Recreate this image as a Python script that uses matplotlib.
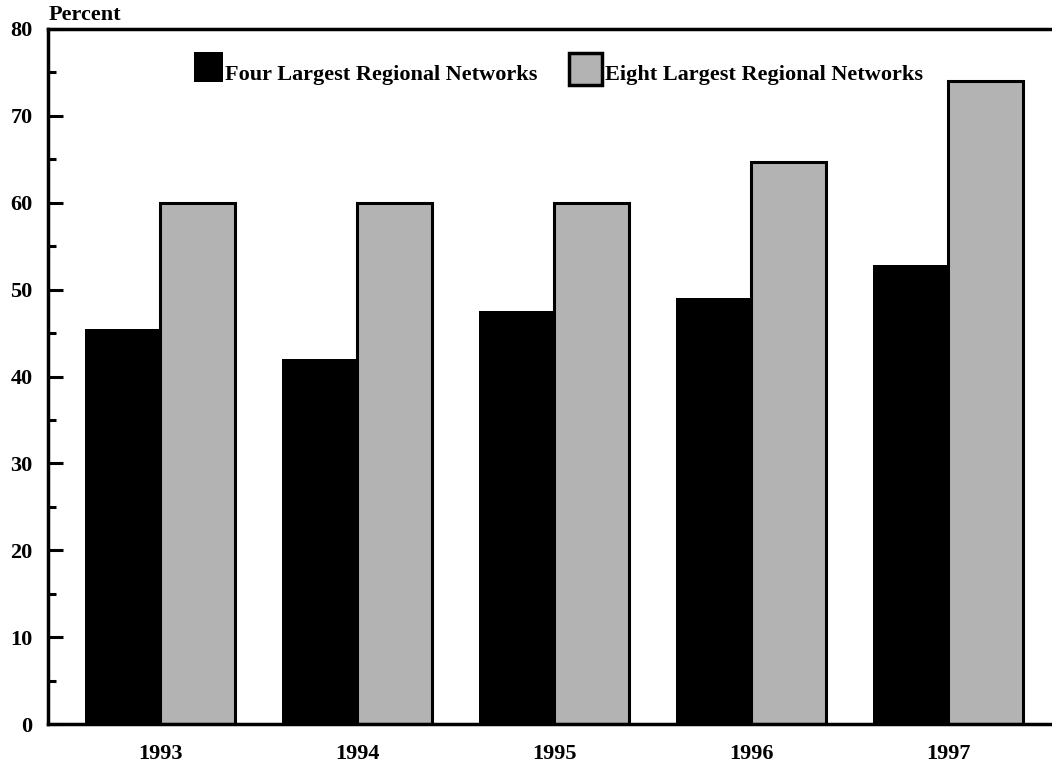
import matplotlib.pyplot as plt
import numpy as np
from matplotlib.patches import Rectangle
from matplotlib.ticker import MultipleLocator

years = ['1993', '1994', '1995', '1996', '1997']
four_largest = [45.5, 42.0, 47.6, 49.0, 52.8]
eight_largest = [60.0, 60.0, 60.0, 64.7, 74.0]

plt.rcParams['font.family'] = ['Liberation Serif', 'DejaVu Serif']
plt.rcParams['font.weight'] = 'bold'

fig = plt.figure(figsize=(10.52, 7.63), dpi=100)
ax = fig.add_axes([0.0456, 0.051, 0.9544, 0.911])

x = np.arange(len(years))
w = 0.38
ax.bar(x - w / 2, four_largest, w, color='black', edgecolor='black', linewidth=0)
ax.bar(x + w / 2, eight_largest, w, color='#b3b3b3', edgecolor='black', linewidth=2.2)

ax.set_xlim(-0.569, 4.528)
ax.set_ylim(0, 80)

ax.spines['right'].set_visible(False)
for s in ['left', 'top', 'bottom']:
    ax.spines[s].set_linewidth(2.5)

ax.yaxis.set_major_locator(MultipleLocator(10))
ax.yaxis.set_minor_locator(MultipleLocator(5))
ax.tick_params(axis='y', which='major', direction='in', length=10.5, width=2.2,
               labelsize=16, pad=11)
ax.tick_params(axis='y', which='minor', direction='in', length=5.5, width=2.2)
ax.set_xticks(x)
ax.set_xticklabels(years)
ax.tick_params(axis='x', length=0, labelsize=16, pad=14)
for lab in ax.get_yticklabels() + ax.get_xticklabels():
    lab.set_fontweight('bold')

fig.text(0.0466, 0.974, 'Percent', fontsize=16, fontweight='bold', va='baseline', ha='left')

# legend
ax.add_patch(Rectangle((0.1454, 0.9237), 0.0289, 0.0432, transform=ax.transAxes,
                       facecolor='black', edgecolor='black', linewidth=0, clip_on=False))
ax.text(0.1763, 0.9266, 'Four Largest Regional Networks', transform=ax.transAxes,
        fontsize=16, fontweight='bold', va='baseline', ha='left')
ax.add_patch(Rectangle((0.519, 0.919), 0.0329, 0.046, transform=ax.transAxes,
                       facecolor='#b3b3b3', edgecolor='black', linewidth=2.5, clip_on=False))
ax.text(0.5548, 0.9266, 'Eight Largest Regional Networks', transform=ax.transAxes,
        fontsize=16, fontweight='bold', va='baseline', ha='left')

fig.savefig('out.png', dpi=100)
